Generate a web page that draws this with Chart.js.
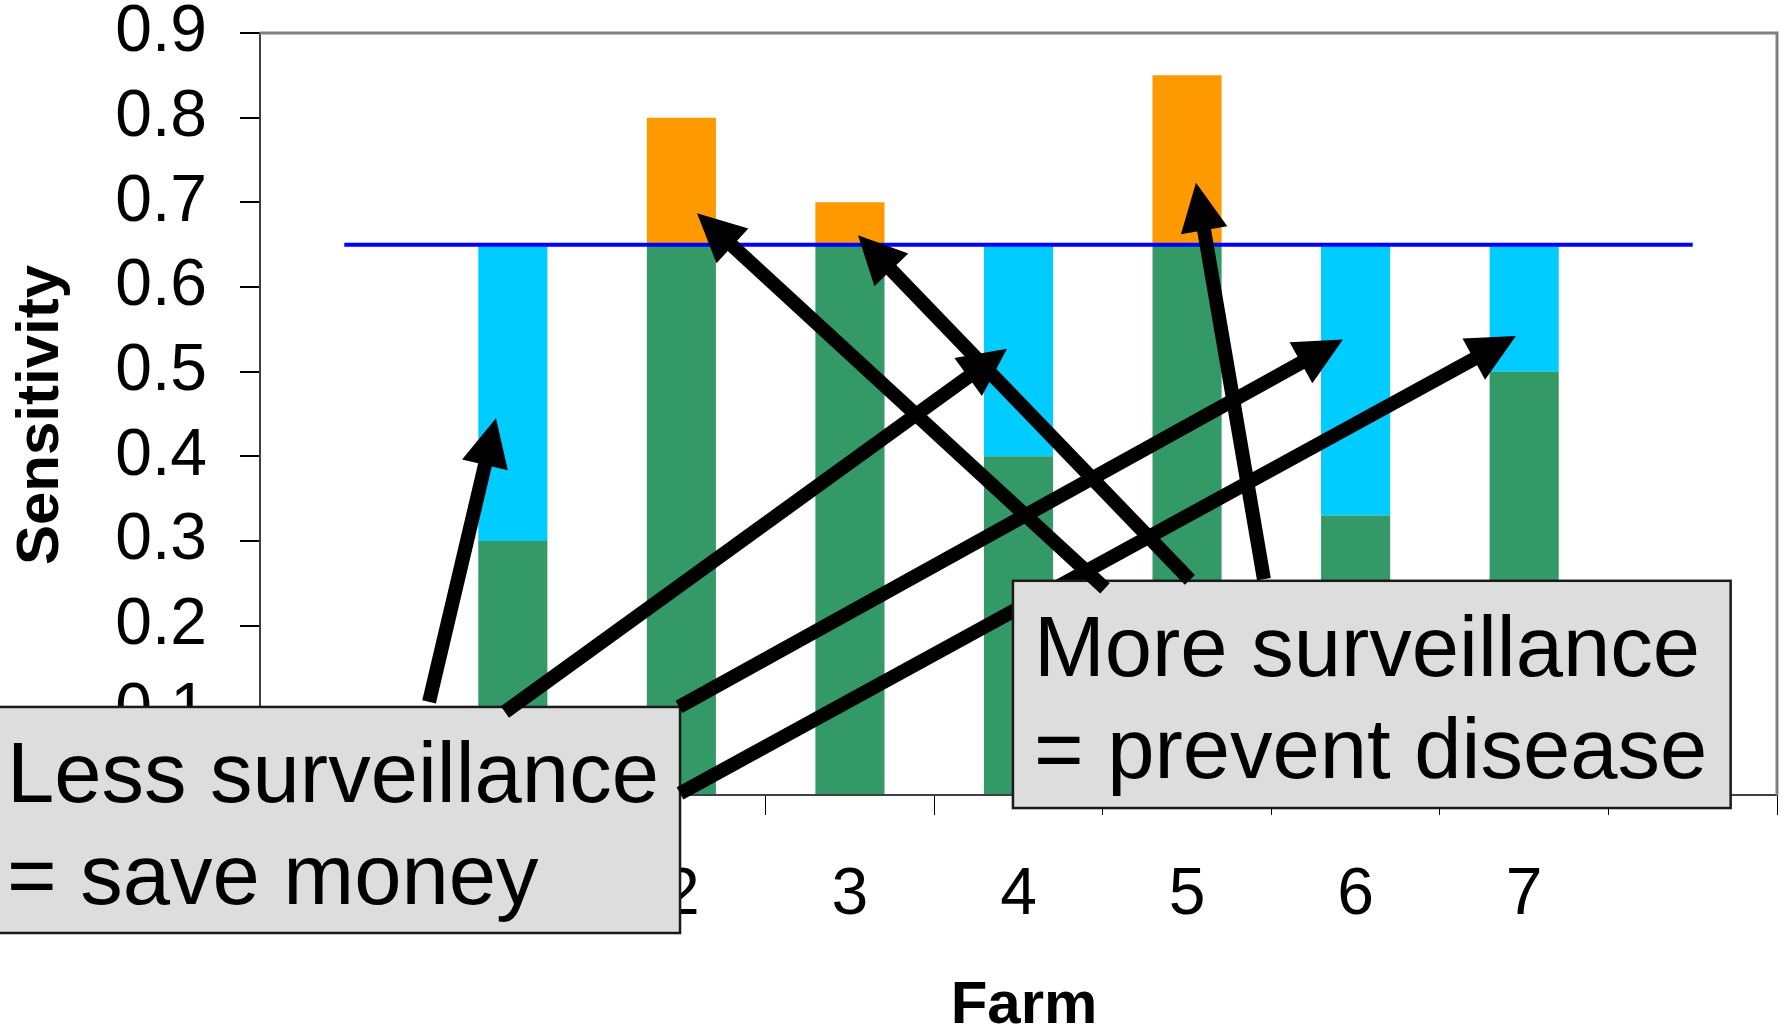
<!DOCTYPE html>
<html>
<head>
<meta charset="utf-8">
<script src="https://cdn.jsdelivr.net/npm/chart.js@4.4.1/dist/chart.umd.min.js"></script>
<style>
  html, body { margin: 0; padding: 0; background: #ffffff; }
  #wrap { width: 1783px; height: 1030px; }
</style>
</head>
<body>
<div id="wrap"><canvas id="chart" width="1783" height="1030"></canvas></div>
<script>
// Farms on the category axis (blank slots either side give the axis its margins)
const farmLabels = ['', '1', '2', '3', '4', '5', '6', '7', ''];
// Current surveillance sensitivity per farm
const currentSensitivity = [null, 0.30, 0.65, 0.65, 0.40, 0.65, 0.33, 0.50, null];
// Extra sensitivity needed to reach the target
const shortfall = [null, 0.35, 0, 0, 0.25, 0, 0.32, 0.15, null];
// Sensitivity above the target
const surplus = [null, 0, 0.15, 0.05, 0, 0.20, 0, 0, null];
// Target sensitivity
const targetSensitivity = [0.65, 0.65, 0.65, 0.65, 0.65, 0.65, 0.65, 0.65, 0.65];
const yTickLabels = ['0', '0.1', '0.2', '0.3', '0.4', '0.5', '0.6', '0.7', '0.8', '0.9'];

// Call-out boxes and their arrows, in axis units: [category position, sensitivity]
const notes = [
  {
    lines: ['Less surveillance', '= save money'],
    box: [[-2.126, 0.104], [1.992, -0.163]],
    arrows: [
      [[0.503, 0.110], [0.900, 0.445]],
      [[0.953, 0.098], [3.932, 0.527]],
      [[1.986, 0.104], [5.925, 0.538]],
      [[1.992, 0.002], [6.951, 0.542]]
    ]
  },
  {
    lines: ['More surveillance', '= prevent disease'],
    box: [[3.967, 0.253], [8.225, -0.0154]],
    arrows: [
      [[4.513, 0.244], [2.093, 0.687]],
      [[5.017, 0.254], [3.048, 0.661]],
      [[5.456, 0.255], [5.053, 0.723]]
    ]
  }
];

const FONT = "'Liberation Sans', Arial, Helvetica, sans-serif";

function drawArrow(ctx, tail, tip) {
  const dx = tip[0] - tail[0], dy = tip[1] - tail[1];
  const len = Math.hypot(dx, dy);
  const ux = dx / len, uy = dy / len;
  const headLen = 48, headW = 47;
  const bx = tip[0] - ux * headLen, by = tip[1] - uy * headLen;
  ctx.strokeStyle = '#000000';
  ctx.fillStyle = '#000000';
  ctx.lineWidth = 14;
  ctx.lineCap = 'butt';
  ctx.beginPath();
  ctx.moveTo(tail[0], tail[1]);
  ctx.lineTo(bx + ux * 4, by + uy * 4);
  ctx.stroke();
  ctx.beginPath();
  ctx.moveTo(tip[0], tip[1]);
  ctx.lineTo(bx - uy * headW / 2, by + ux * headW / 2);
  ctx.lineTo(bx + uy * headW / 2, by - ux * headW / 2);
  ctx.closePath();
  ctx.fill();
}

const framePlugin = {
  id: 'plotFrame',
  beforeDatasetsDraw(chart) {
    const { ctx, chartArea: a } = chart;
    ctx.save();
    ctx.strokeStyle = '#808080';
    ctx.lineWidth = 3;
    ctx.beginPath();
    ctx.moveTo(a.left, a.top);
    ctx.lineTo(a.right, a.top);
    ctx.lineTo(a.right, a.bottom);
    ctx.stroke();
    ctx.restore();
  }
};

const notesPlugin = {
  id: 'surveillanceNotes',
  afterDraw(chart) {
    const ctx = chart.ctx;
    const xs = chart.scales.x, ys = chart.scales.y;
    const px = p => [xs.getPixelForValue(p[0]), ys.getPixelForValue(p[1])];

    // axis titles
    ctx.save();
    ctx.fillStyle = '#000000';
    ctx.font = 'bold 60px ' + FONT;
    ctx.textAlign = 'center';
    ctx.textBaseline = 'alphabetic';
    ctx.translate(58, 415);
    ctx.rotate(-Math.PI / 2);
    ctx.fillText('Sensitivity', 0, 0);
    ctx.restore();

    ctx.save();
    ctx.fillStyle = '#000000';
    ctx.font = 'bold 60px ' + FONT;
    ctx.textAlign = 'center';
    ctx.textBaseline = 'alphabetic';
    ctx.fillText('Farm', 1024, 1023);
    ctx.restore();

    notes.forEach(note => {
      const p0 = px(note.box[0]), p1 = px(note.box[1]);
      ctx.save();
      ctx.fillStyle = '#dddddd';
      ctx.fillRect(p0[0], p0[1], p1[0] - p0[0], p1[1] - p0[1]);
      ctx.strokeStyle = '#1a1a1a';
      ctx.lineWidth = 2.5;
      ctx.strokeRect(p0[0], p0[1], p1[0] - p0[0], p1[1] - p0[1]);
      ctx.fillStyle = '#000000';
      ctx.font = '85px ' + FONT;
      ctx.textAlign = 'left';
      ctx.textBaseline = 'alphabetic';
      note.lines.forEach((t, i) => ctx.fillText(t, p0[0] + 21, p0[1] + 95 + i * 102));
      note.arrows.forEach(a => drawArrow(ctx, px(a[0]), px(a[1])));
      ctx.restore();
    });
  }
};

new Chart(document.getElementById('chart'), {
  type: 'bar',
  data: {
    labels: farmLabels,
    datasets: [
      {
        type: 'line', label: 'Target', data: targetSensitivity,
        borderColor: '#0000ff', borderWidth: 4, pointRadius: 0,
        fill: false, order: 0, stack: 'target'
      },
      {
        label: 'Current', data: currentSensitivity, backgroundColor: '#339966',
        stack: 'farm', order: 1, barPercentage: 0.41, categoryPercentage: 1
      },
      {
        label: 'Shortfall', data: shortfall, backgroundColor: '#00ccff',
        stack: 'farm', order: 1, barPercentage: 0.41, categoryPercentage: 1
      },
      {
        label: 'Surplus', data: surplus, backgroundColor: '#ff9900',
        stack: 'farm', order: 1, barPercentage: 0.41, categoryPercentage: 1
      }
    ]
  },
  options: {
    responsive: false,
    animation: false,
    devicePixelRatio: 1,
    layout: { padding: { top: 33, right: 6, left: 0, bottom: 0 }, autoPadding: false },
    plugins: { legend: { display: false }, tooltip: { enabled: false } },
    scales: {
      x: {
        stacked: true,
        offset: true,
        ticks: {
          color: '#000000', font: { family: FONT, size: 66 },
          padding: 41, autoSkip: false, maxRotation: 0
        },
        grid: { offset: true, drawOnChartArea: false, drawTicks: true, tickLength: 20, color: '#000000', lineWidth: 1 },
        border: { display: true, color: '#404040', width: 2 },
        afterFit(s) {
          s.height = 235;
          s.paddingLeft = 0; s.paddingRight = 0;
        }
      },
      y: {
        stacked: true,
        min: 0, max: 0.9,
        ticks: {
          stepSize: 0.1, color: '#000000', font: { family: FONT, size: 66 },
          padding: 33,
          callback: (v, i) => yTickLabels[i]
        },
        grid: { drawOnChartArea: false, drawTicks: true, tickLength: 20, color: '#000000', lineWidth: 2 },
        border: { display: true, color: '#404040', width: 2 },
        afterFit(s) {
          s.width = 260;
          s.paddingTop = 0; s.paddingBottom = 0;
        }
      }
    }
  },
  plugins: [framePlugin, notesPlugin]
});
</script>
</body>
</html>
